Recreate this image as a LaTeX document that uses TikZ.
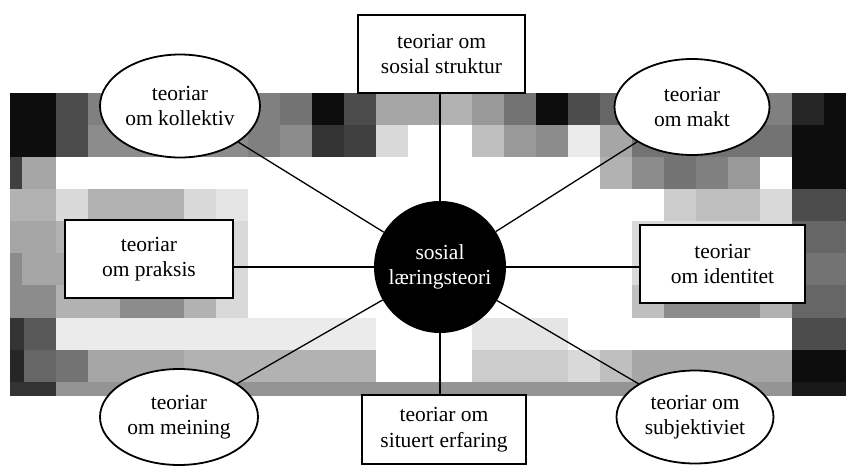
\documentclass[tikz,border=0pt]{standalone}
\usepackage{fontspec}
\setmainfont{Liberation Serif}
\usetikzlibrary{shapes.geometric}
\newcommand\diagfont{\fontsize{21.5}{25.5}\selectfont}
\begin{document}
\begin{tikzpicture}[x=1pt,y=-1pt,
  tbox/.style={draw, line width=1.8pt, fill=white, rectangle, inner sep=0pt,
               align=center, font=\diagfont},
  oval/.style={draw, line width=1.8pt, fill=white, ellipse, inner sep=0pt,
               align=center, font=\diagfont},
  hubnode/.style={circle, fill=black, inner sep=0pt, minimum size=132pt,
               text=white, align=center, font=\diagfont},
  link/.style={line width=1.3pt}]

% page
\fill[white] (0,0) rectangle (846,466);
\useasboundingbox (0,0) rectangle (846,466);

% grey mosaic behind the diagram: x1/x2/y1/y2/grey
\foreach \xa/\xb/\ya/\yb/\g in {
  % row 93-125
  10/56/93/125/95, 56/88/93/125/70, 88/280/93/125/50, 280/312/93/125/55,
  312/344/93/125/95, 344/376/93/125/70, 376/440/93/125/35, 440/472/93/125/30,
  472/504/93/125/40, 504/536/93/125/55, 536/568/93/125/95, 568/600/93/125/70,
  600/632/93/125/60, 632/760/93/125/55, 760/792/93/125/50, 792/824/93/125/85,
  824/846/93/125/95,
  % row 125-157
  10/56/125/157/95, 56/88/125/157/70, 88/248/125/157/45, 248/280/125/157/50,
  280/312/125/157/45, 312/344/125/157/80, 344/376/125/157/75, 376/408/125/157/15,
  472/504/125/157/25, 504/536/125/157/40, 536/568/125/157/45, 568/600/125/157/8,
  600/632/125/157/35, 632/792/125/157/55, 792/846/125/157/95,
  % row 157-189
  10/22/157/189/75, 22/56/157/189/35, 600/632/157/189/30, 632/664/157/189/45,
  664/696/157/189/55, 696/728/157/189/50, 728/760/157/189/40, 792/846/157/189/95,
  % row 189-221
  10/56/189/221/30, 56/88/189/221/15, 88/184/189/221/30, 184/216/189/221/15,
  216/248/189/221/10, 664/696/189/221/20, 696/760/189/221/25, 760/792/189/221/15,
  792/846/189/221/70,
  % row 221-253
  10/56/221/253/35, 56/216/221/253/30, 216/248/221/253/15, 632/664/221/253/15,
  664/792/221/253/15, 792/846/221/253/60,
  % row 253-285
  10/22/253/285/45, 22/216/253/285/35, 216/248/253/285/15, 632/664/253/285/15,
  664/792/253/285/15, 792/846/253/285/55,
  % row 285-318
  10/56/285/318/45, 56/120/285/318/30, 120/184/285/318/45, 184/216/285/318/30,
  216/248/285/318/15, 632/664/285/318/25, 664/760/285/318/45, 760/792/285/318/30,
  792/846/285/318/60,
  % row 318-350
  10/24/318/350/80, 24/56/318/350/65, 56/376/318/350/8, 472/568/318/350/10,
  792/846/318/350/70,
  % row 350-382
  10/24/350/382/85, 24/56/350/382/60, 56/88/350/382/55, 88/184/350/382/35,
  184/376/350/382/30, 472/568/350/382/20, 568/600/350/382/15, 600/632/350/382/25,
  632/792/350/382/35, 792/846/350/382/95,
  % row 382-396
  10/56/382/396/80, 56/792/382/396/42, 792/846/382/396/90}
  \fill[black!\g] (\xa,\ya) rectangle (\xb,\yb);

% centre
\node[hubnode] (hub) at (440,267) {sosial\\læringsteori};

% boxes
\node[tbox, minimum width=167pt, minimum height=78pt] (struk) at (441.5,54)
  {teoriar om\\sosial struktur};
\node[tbox, minimum width=168pt, minimum height=78pt] (prak) at (149,259)
  {teoriar\\om praksis};
\node[tbox, minimum width=165pt, minimum height=78pt] (iden) at (722.5,264)
  {teoriar\\om identitet};
\node[tbox, minimum width=164pt, minimum height=69pt] (erf) at (444,429.5)
  {teoriar om\\situert erfaring};

% ovals
\node[oval, minimum width=160pt, minimum height=103pt] (koll) at (180,106)
  {teoriar\\om kollektiv};
\node[oval, minimum width=155pt, minimum height=96pt] (makt) at (692,107)
  {teoriar\\om makt};
\node[oval, minimum width=158pt, minimum height=96pt] (mein) at (179,417)
  {teoriar\\om meining};
\node[oval, minimum width=157pt, minimum height=93pt] (subj) at (695,417)
  {teoriar om\\subjektiviet};

% spokes
\draw[link] (hub) -- (hub |- struk.south);
\draw[link] (hub) -- (hub |- erf.north);
\draw[link] (hub) -- (hub -| prak.east);
\draw[link] (hub) -- (hub -| iden.west);
\draw[link] (hub) -- (koll);
\draw[link] (hub) -- (makt);
\draw[link] (hub) -- (mein);
\draw[link] (hub) -- (subj);
\end{tikzpicture}
\end{document}
